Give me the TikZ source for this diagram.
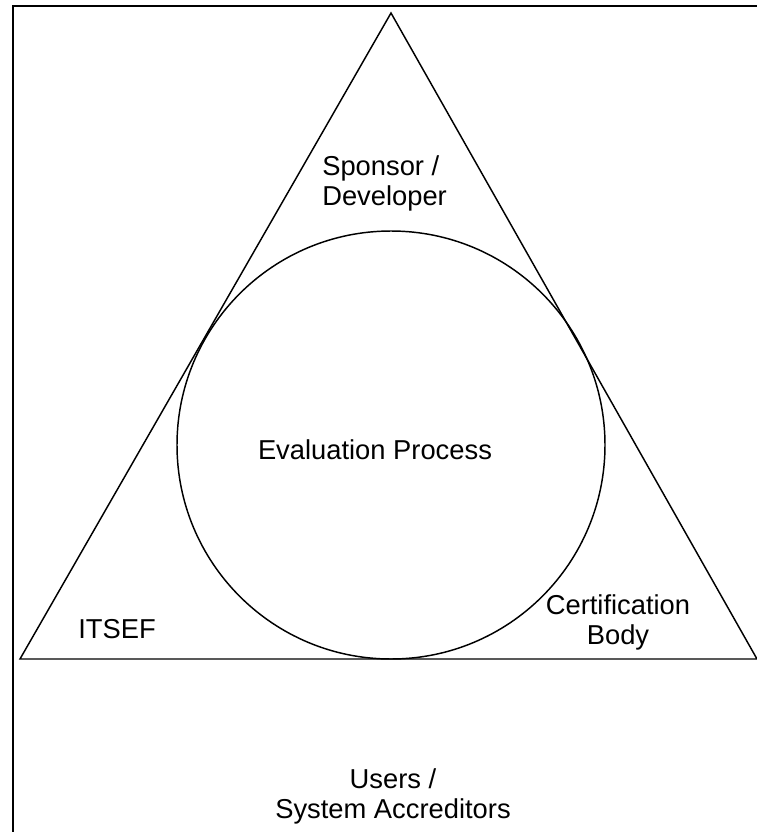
\documentclass[tikz,border=0pt]{standalone}
\usepackage{fontspec}
\setmainfont{Liberation Sans}
\begin{document}
\begin{tikzpicture}[x=0.75pt,y=-0.75pt,
  frameline/.style={line width=1.5pt,black},
  shapeline/.style={line width=1.1pt,black},
  lbl/.style={inner sep=0pt,font=\fontsize{20.5}{22}\selectfont}]
\useasboundingbox (0,0) rectangle (757,832);
% frame
\coordinate (fbl) at (13,840);
\coordinate (ftl) at (13,6);
\coordinate (ftr) at (765,6);
\draw[frameline] (fbl) -- (ftl) -- (ftr);
% triangle
\coordinate (apex) at (391,13);
\coordinate (bl) at (20,659);
\coordinate (br) at (757,659);
\draw[shapeline,line join=miter] (apex) -- (bl) -- (br) -- cycle;
% incircle
\node[shapeline,draw,circle,minimum size=428*0.75pt,inner sep=0pt] (circ) at (391,445) {};
% labels
\node[lbl,anchor=base west,align=left] (spons) at (322,205) {Sponsor /\\Developer};
\node[lbl,anchor=base] (evalp) at (375,459) {Evaluation Process};
\node[lbl,anchor=base west] (itsef) at (78,638) {ITSEF};
\node[lbl,anchor=base,align=center] (cert) at (618,644) {Certification\\Body};
\node[lbl,anchor=base,align=center] (users) at (393,818) {Users /\\System Accreditors};
\end{tikzpicture}
\end{document}
